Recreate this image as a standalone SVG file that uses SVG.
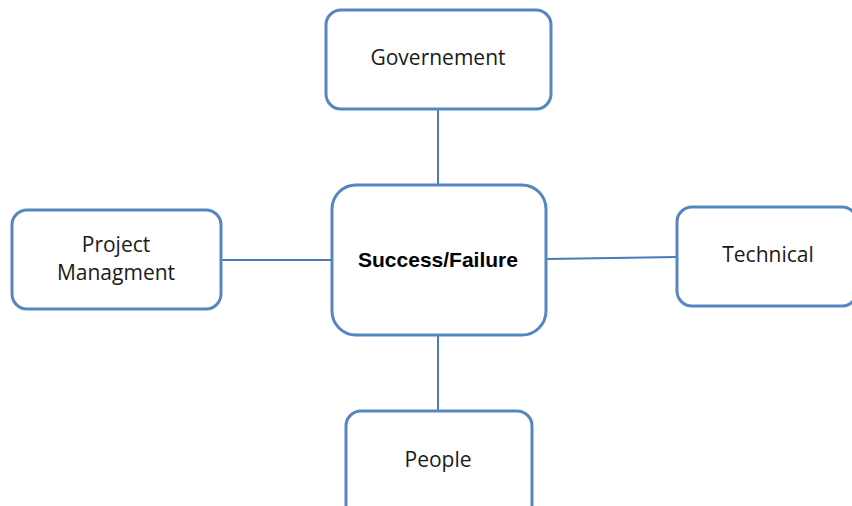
<svg xmlns="http://www.w3.org/2000/svg" width="852" height="506" viewBox="0 0 852 506">
<style>
.box{fill:#fff;stroke:#5586c0;stroke-width:3}
.lnk{stroke:#4a7db8;stroke-width:2;fill:none}
text{font-family:"Open Sans","Liberation Sans",Arial,sans-serif;font-size:21px;fill:#1a1a1a;text-anchor:middle;dominant-baseline:central}
.b{font-family:"Liberation Sans",Arial,sans-serif;font-weight:bold;font-size:21px;fill:#000}
</style>
<rect width="852" height="506" fill="#fff"/>
<g id="connectors">
<line class="lnk" x1="438" y1="109" x2="438" y2="185"/>
<line class="lnk" x1="438" y1="335" x2="438" y2="412"/>
<line class="lnk" x1="222" y1="260" x2="332" y2="260"/>
<line class="lnk" x1="547" y1="259" x2="677" y2="257"/>
</g>
<g id="governement"><rect class="box" x="326" y="10" width="225" height="99" rx="15"/><text x="438" y="57">Governement</text></g>
<g id="center"><rect class="box" x="332" y="185" width="214" height="150" rx="24"/><text class="b" x="438" y="259">Success/Failure</text></g>
<g id="project"><rect class="box" x="12" y="210" width="209" height="99" rx="15"/><text x="116" y="244">Project</text><text x="116" y="272">Managment</text></g>
<g id="technical"><rect class="box" x="677" y="207" width="180" height="99" rx="15"/><text x="768" y="254">Technical</text></g>
<g id="people"><rect class="box" x="346" y="411" width="186" height="110" rx="15"/><text x="438" y="459">People</text></g>
</svg>
